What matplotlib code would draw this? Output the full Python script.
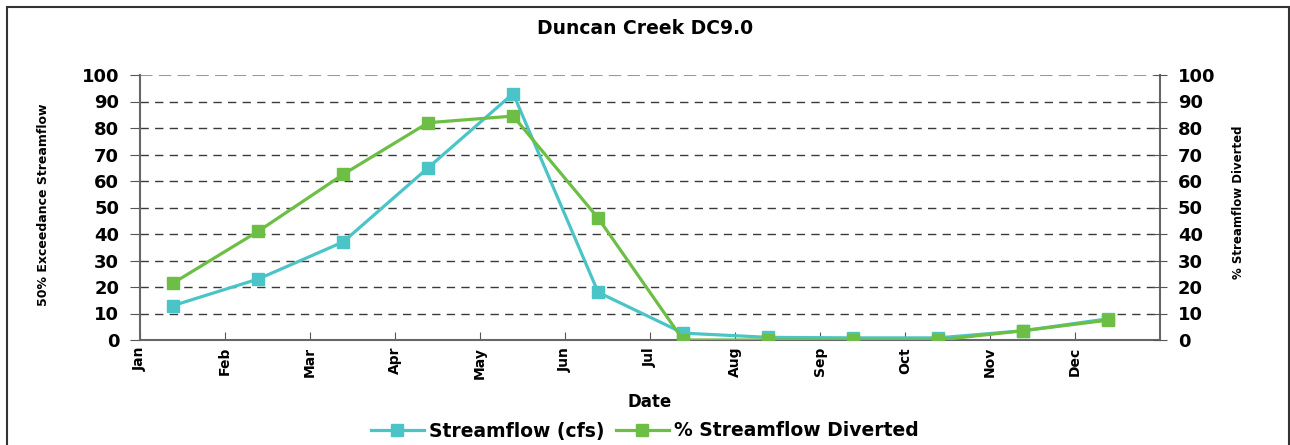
import numpy as np
import matplotlib.pyplot as plt
from matplotlib.patches import Rectangle

plt.rcParams['font.family'] = ['DejaVu Sans']
plt.rcParams['font.weight'] = 'bold'

# monthly values
months = ['Jan', 'Feb', 'Mar', 'Apr', 'May', 'Jun', 'Jul', 'Aug', 'Sep', 'Oct', 'Nov', 'Dec']
streamflow = [13, 23, 37, 65, 93, 18, 2.6, 1.0, 0.8, 0.8, 3.5, 8]
diverted = [21.5, 41, 62.5, 82, 84.5, 46, 0, 0, 0, 0, 3.5, 7.5]

cyan = '#4BC4C8'
green = '#6CBE45'

fig = plt.figure(figsize=(12.9, 4.45), dpi=100)
fig.patches.append(Rectangle((7 / 1290, -0.05), 1282 / 1290, 1.05 - 7 / 445,
                             transform=fig.transFigure, fill=False,
                             edgecolor='#333333', linewidth=1.5))

ax = fig.add_axes([140 / 1290, 1 - 340 / 445, 1020 / 1290, 265 / 445])
x = np.arange(len(months)) + 0.39

ax.plot(x, streamflow, color=cyan, lw=2.3, marker='s', ms=8, label='Streamflow (cfs)', zorder=3)
ax.plot(x, diverted, color=green, lw=2.3, marker='s', ms=8, label='% Streamflow Diverted', zorder=4)

ax.set_xlim(0, 12)
ax.set_ylim(0, 100)
ax.set_yticks(range(0, 101, 10))
ax.set_xticks(range(12))
ax.set_xticklabels(months, rotation=90, fontsize=10, fontweight='bold')
ax.tick_params(axis='x', direction='in', length=6, color='#555555', pad=5)
ax.tick_params(axis='y', direction='out', length=7, color='#555555', labelsize=13, pad=8)

for v in range(10, 100, 10):
    ax.axhline(v, color='#3a3a3a', lw=1, ls=(0, (6, 4.5)), zorder=1)
ax.axhline(100, color='#999999', lw=1.5, ls=(0, (6, 3)), zorder=1)

for s in ['left', 'right', 'bottom']:
    ax.spines[s].set_color('#666666')
    ax.spines[s].set_linewidth(1.5)
ax.spines['top'].set_visible(False)

ax2 = ax.twinx()
ax2.set_ylim(0, 100)
ax2.set_yticks(range(0, 101, 10))
ax2.tick_params(axis='y', direction='inout', length=10, color='#555555', labelsize=13, pad=8)
for s in ax2.spines.values():
    s.set_visible(False)

ax.set_xlabel('Date', fontsize=12, fontweight='bold')
ax.xaxis.set_label_coords(0.5, -53 / 265)
fig.text(44 / 1290, 1 - 205 / 445, '50% Exceedance Streamflow', rotation=90,
         ha='center', va='center', fontsize=9, fontweight='bold')
fig.text(1238 / 1290, 1 - 202 / 445, '% Streamflow Diverted', rotation=90,
         ha='center', va='center', fontsize=8.5, fontweight='bold')
fig.text(0.5, 1 - 29 / 445, 'Duncan Creek DC9.0', ha='center', va='center',
         fontsize=13.5, fontweight='bold')

fig.legend(loc='center', bbox_to_anchor=(0.5, 1 - 431 / 445), ncol=2, frameon=False,
           handlelength=2.8, columnspacing=0.6, handletextpad=0.3,
           prop={'weight': 'bold', 'size': 13.5})

fig.savefig('out.png', dpi=100)
